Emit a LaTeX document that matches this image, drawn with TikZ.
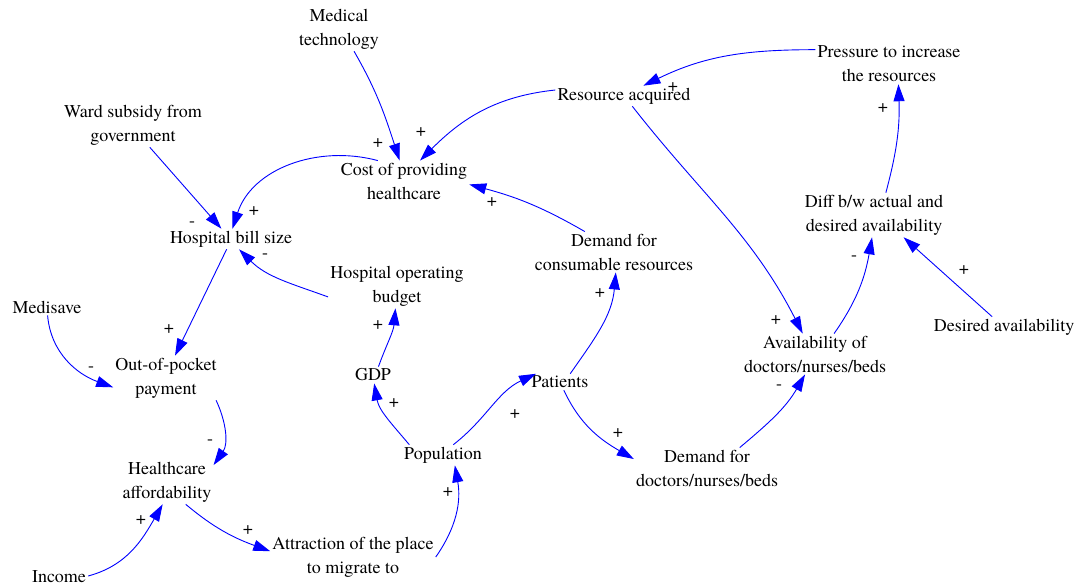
\documentclass[tikz,border=0pt]{standalone}
\usepackage{fontspec}
\setmainfont{texgyretermes-regular.otf}
\usetikzlibrary{arrows.meta}
\definecolor{linkblue}{RGB}{0,0,255}

\begin{document}
\begin{tikzpicture}[x=1pt, y=1pt,
        var/.style={align=center, inner sep=2pt, font=\rmfamily\fontsize{18}{24}\selectfont},
        link/.style={-{Triangle[length=17pt, width=11pt]}, color=linkblue, line width=0.9pt},
        polarity/.style={inner sep=0pt, font=\rmfamily\fontsize{18}{18}\selectfont},
    ]
        \useasboundingbox (0,0) rectangle (1078,-586);

        % Variables
        \node[var] (medtech)    at (339,-29)  {Medical\\technology};
        \node[var] (ward)       at (133,-125) {Ward subsidy from\\government};
        \node[var] (cost)       at (404,-181) {Cost of providing\\healthcare};
        \node[var] (bill)       at (231,-239) {Hospital bill size};
        \node[var] (resource)   at (624,-96)  {Resource acquired};
        \node[var] (pressure)   at (889,-64)  {Pressure to increase\\the resources};
        \node[var] (demcons)    at (614,-252) {Demand for\\consumable resources};
        \node[var] (budget)     at (397,-286) {Hospital operating\\budget};
        \node[var] (medisave)   at (47,-307)  {Medisave};
        \node[var] (oop)        at (166,-378) {Out-of-pocket\\payment};
        \node[var] (gdp)        at (373,-375) {GDP};
        \node[var] (patients)   at (560,-382) {Patients};
        \node[var] (population) at (443,-455) {Population};
        \node[var] (afford)     at (167,-482) {Healthcare\\affordability};
        \node[var] (attract)    at (353,-557) {Attraction of the place\\to migrate to};
        \node[var] (income)     at (59,-577)  {Income};
        \node[var] (demdoc)     at (707,-468) {Demand for\\doctors/nurses/beds};
        \node[var] (avail)      at (815,-354) {Availability of\\doctors/nurses/beds};
        \node[var] (diff)       at (874,-215) {Diff b/w actual and\\desired availability};
        \node[var] (desired)    at (1004,-327) {Desired availability};

        % Causal links
        \draw[link] (medtech.-56) to[out=-60, in=108] (cost.102);
        \draw[link] (resource.175) to[out=186, in=45] (cost.52);
        \draw[link] (cost.142) to[out=165, in=72] (bill.82);
        \draw[link] (ward.-53) -- (bill.133);
        \draw[link] (budget.189) to[out=160, in=-45] (bill.-52);
        \draw[link] (demcons.145) to[out=150, in=-15] (cost.-3);
        \draw[link] (pressure.169) to[out=180, in=26] (resource.28);
        \draw[link] (resource.-51) to[out=-52, in=117] (avail.121);
        \draw[link] (diff.62) to[out=75, in=-88] (pressure.-65);
        \draw[link] (avail.47) to[out=55, in=-100] (diff.-95);
        \draw[link] (desired.139) -- (diff.-37);
        \draw[link] (patients.39) to[out=55, in=-95] (demcons.-85);
        \draw[link] (patients.-65) to[out=-65, in=150] (demdoc.173);
        \draw[link] (demdoc.32) to[out=40, in=-120] (avail.-116);
        \draw[link] (medisave.-86) to[out=-85, in=160] (oop.190);
        \draw[link] (bill.-113) -- (oop.68);
        \draw[link] (oop.-24) to[out=-65, in=55] (afford.20);
        \draw[link] (income.2) to[out=15, in=-120] (afford.-101);
        \draw[link] (afford.-50) to[out=-40, in=160] (attract.176);
        \draw[link] (attract.0) to[out=55, in=-80] (population.-41);
        \draw[link] (population.163) to[out=130, in=-80] (gdp.-82);
        \draw[link] (gdp.57) to[out=70, in=-95] (budget.-94);
        \draw[link] (population.45) to[out=38, in=-155] (patients.161);

        % Polarities
        \foreach \px/\py/\sg [count=\i] in {378/143/+, 421/132/+, 254/211/+, 192/224/-, 265/256/-,
                492/202/+, 673/87/+, 776/320/+, 883/108/+, 854/258/-, 964/270/+, 600/293/+,
                618/433/+, 779/387/-, 91/369/-, 169/329/+, 210/442/-, 141/520/+, 248/530/+,
                448/492/+, 394/403/+, 378/325/+, 515/414/+}
            \node[polarity] (pol\i) at (\px,-\py) {\sg};
\end{tikzpicture}
\end{document}
